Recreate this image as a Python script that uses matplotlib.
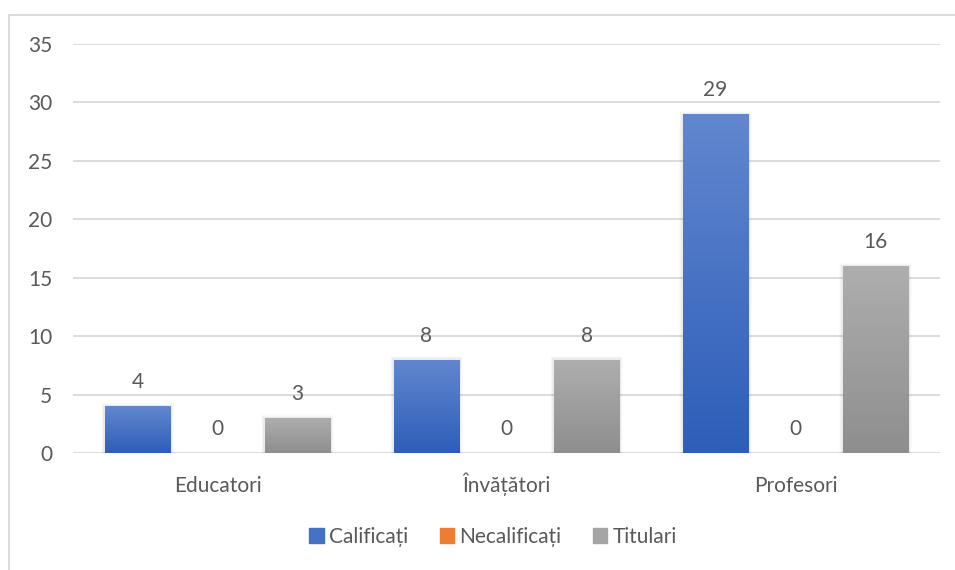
import numpy as np
import matplotlib
matplotlib.use("Agg")
import matplotlib.pyplot as plt
from matplotlib.colors import LinearSegmentedColormap
from matplotlib.patches import Rectangle
from matplotlib.lines import Line2D

plt.rcParams['font.family'] = ['Lato', 'DejaVu Sans']

categories = ["Educatori", "Învățători", "Profesori"]
series = ["Calificați", "Necalificați", "Titulari"]
calificati = [4, 8, 29]
necalificati = [0, 0, 0]
titulari = [3, 8, 16]

text_col = "#595959"
fs = 15
grads = [("#6287CF", "#2D5EB9"), ("#F28A45", "#E46D1F"), ("#AEAEAE", "#8E8E8E")]
solid = ["#4472C4", "#ED7D31", "#A5A5A5"]

fig = plt.figure(figsize=(9.55, 5.70), dpi=100)
ax = fig.add_axes([73 / 955, 1 - 453 / 570, 867 / 955, 409 / 570])

x = np.arange(len(categories))
width = 0.228
offset = 0.277
data = [calificati, necalificati, titulari]

for i, vals in enumerate(data):
    pos = x + (i - 1) * offset
    bars = ax.bar(pos, vals, width, color="none", zorder=3)
    cmap = LinearSegmentedColormap.from_list("g%d" % i, [grads[i][1], grads[i][0]])
    grad = np.linspace(0, 1, 256).reshape(-1, 1)
    for b, v in zip(bars, vals):
        if v > 0:
            # soft shadow
            for k, a in enumerate([0.04, 0.025, 0.015]):
                sh = Rectangle((b.get_x() - 0.004 * (k + 1), 0), b.get_width() + 0.008 * (k + 1),
                               v + 0.1 * (k + 1), color="black", alpha=a, lw=0, zorder=2)
                ax.add_patch(sh)
            im = ax.imshow(grad, cmap=cmap, aspect="auto", origin="lower",
                           extent=[b.get_x(), b.get_x() + b.get_width(), 0, v], zorder=3)
            im.set_clip_path(b)
        ax.annotate(str(v), (b.get_x() + b.get_width() / 2, v), xytext=(0, 10),
                    textcoords="offset points", ha="center", va="bottom",
                    fontsize=fs, color=text_col)

ax.set_xlim(-0.5, 2.5)
ax.set_ylim(0, 35)
ax.set_yticks(range(0, 36, 5))
ax.set_xticks(x)
ax.set_xticklabels(categories)
ax.grid(axis="y", color="#D9D9D9", lw=1.3, zorder=0)
ax.set_axisbelow(True)
for s in ax.spines.values():
    s.set_visible(False)
ax.tick_params(length=0, colors=text_col, labelsize=fs)
ax.tick_params(axis="x", pad=28)
ax.tick_params(axis="y", pad=15)
for lbl in ax.get_xticklabels():
    lbl.set_verticalalignment("baseline")

handles = [Rectangle((0, 0), 1, 1, color=c) for c in solid]
fig.legend(handles, series, loc="center", bbox_to_anchor=(493 / 955, 1 - 537 / 570),
           ncol=3, frameon=False, fontsize=fs, labelcolor=text_col,
           handlelength=0.7, handleheight=0.7, handletextpad=0.25, columnspacing=1.5)

# chart area border
fig.add_artist(Line2D([9 / 955, 9 / 955], [0, 1 - 15 / 570], color="#D9D9D9", lw=1.3))
fig.add_artist(Line2D([9 / 955, 1], [1 - 15 / 570, 1 - 15 / 570], color="#D9D9D9", lw=1.3))

fig.savefig("out.png", dpi=100)
